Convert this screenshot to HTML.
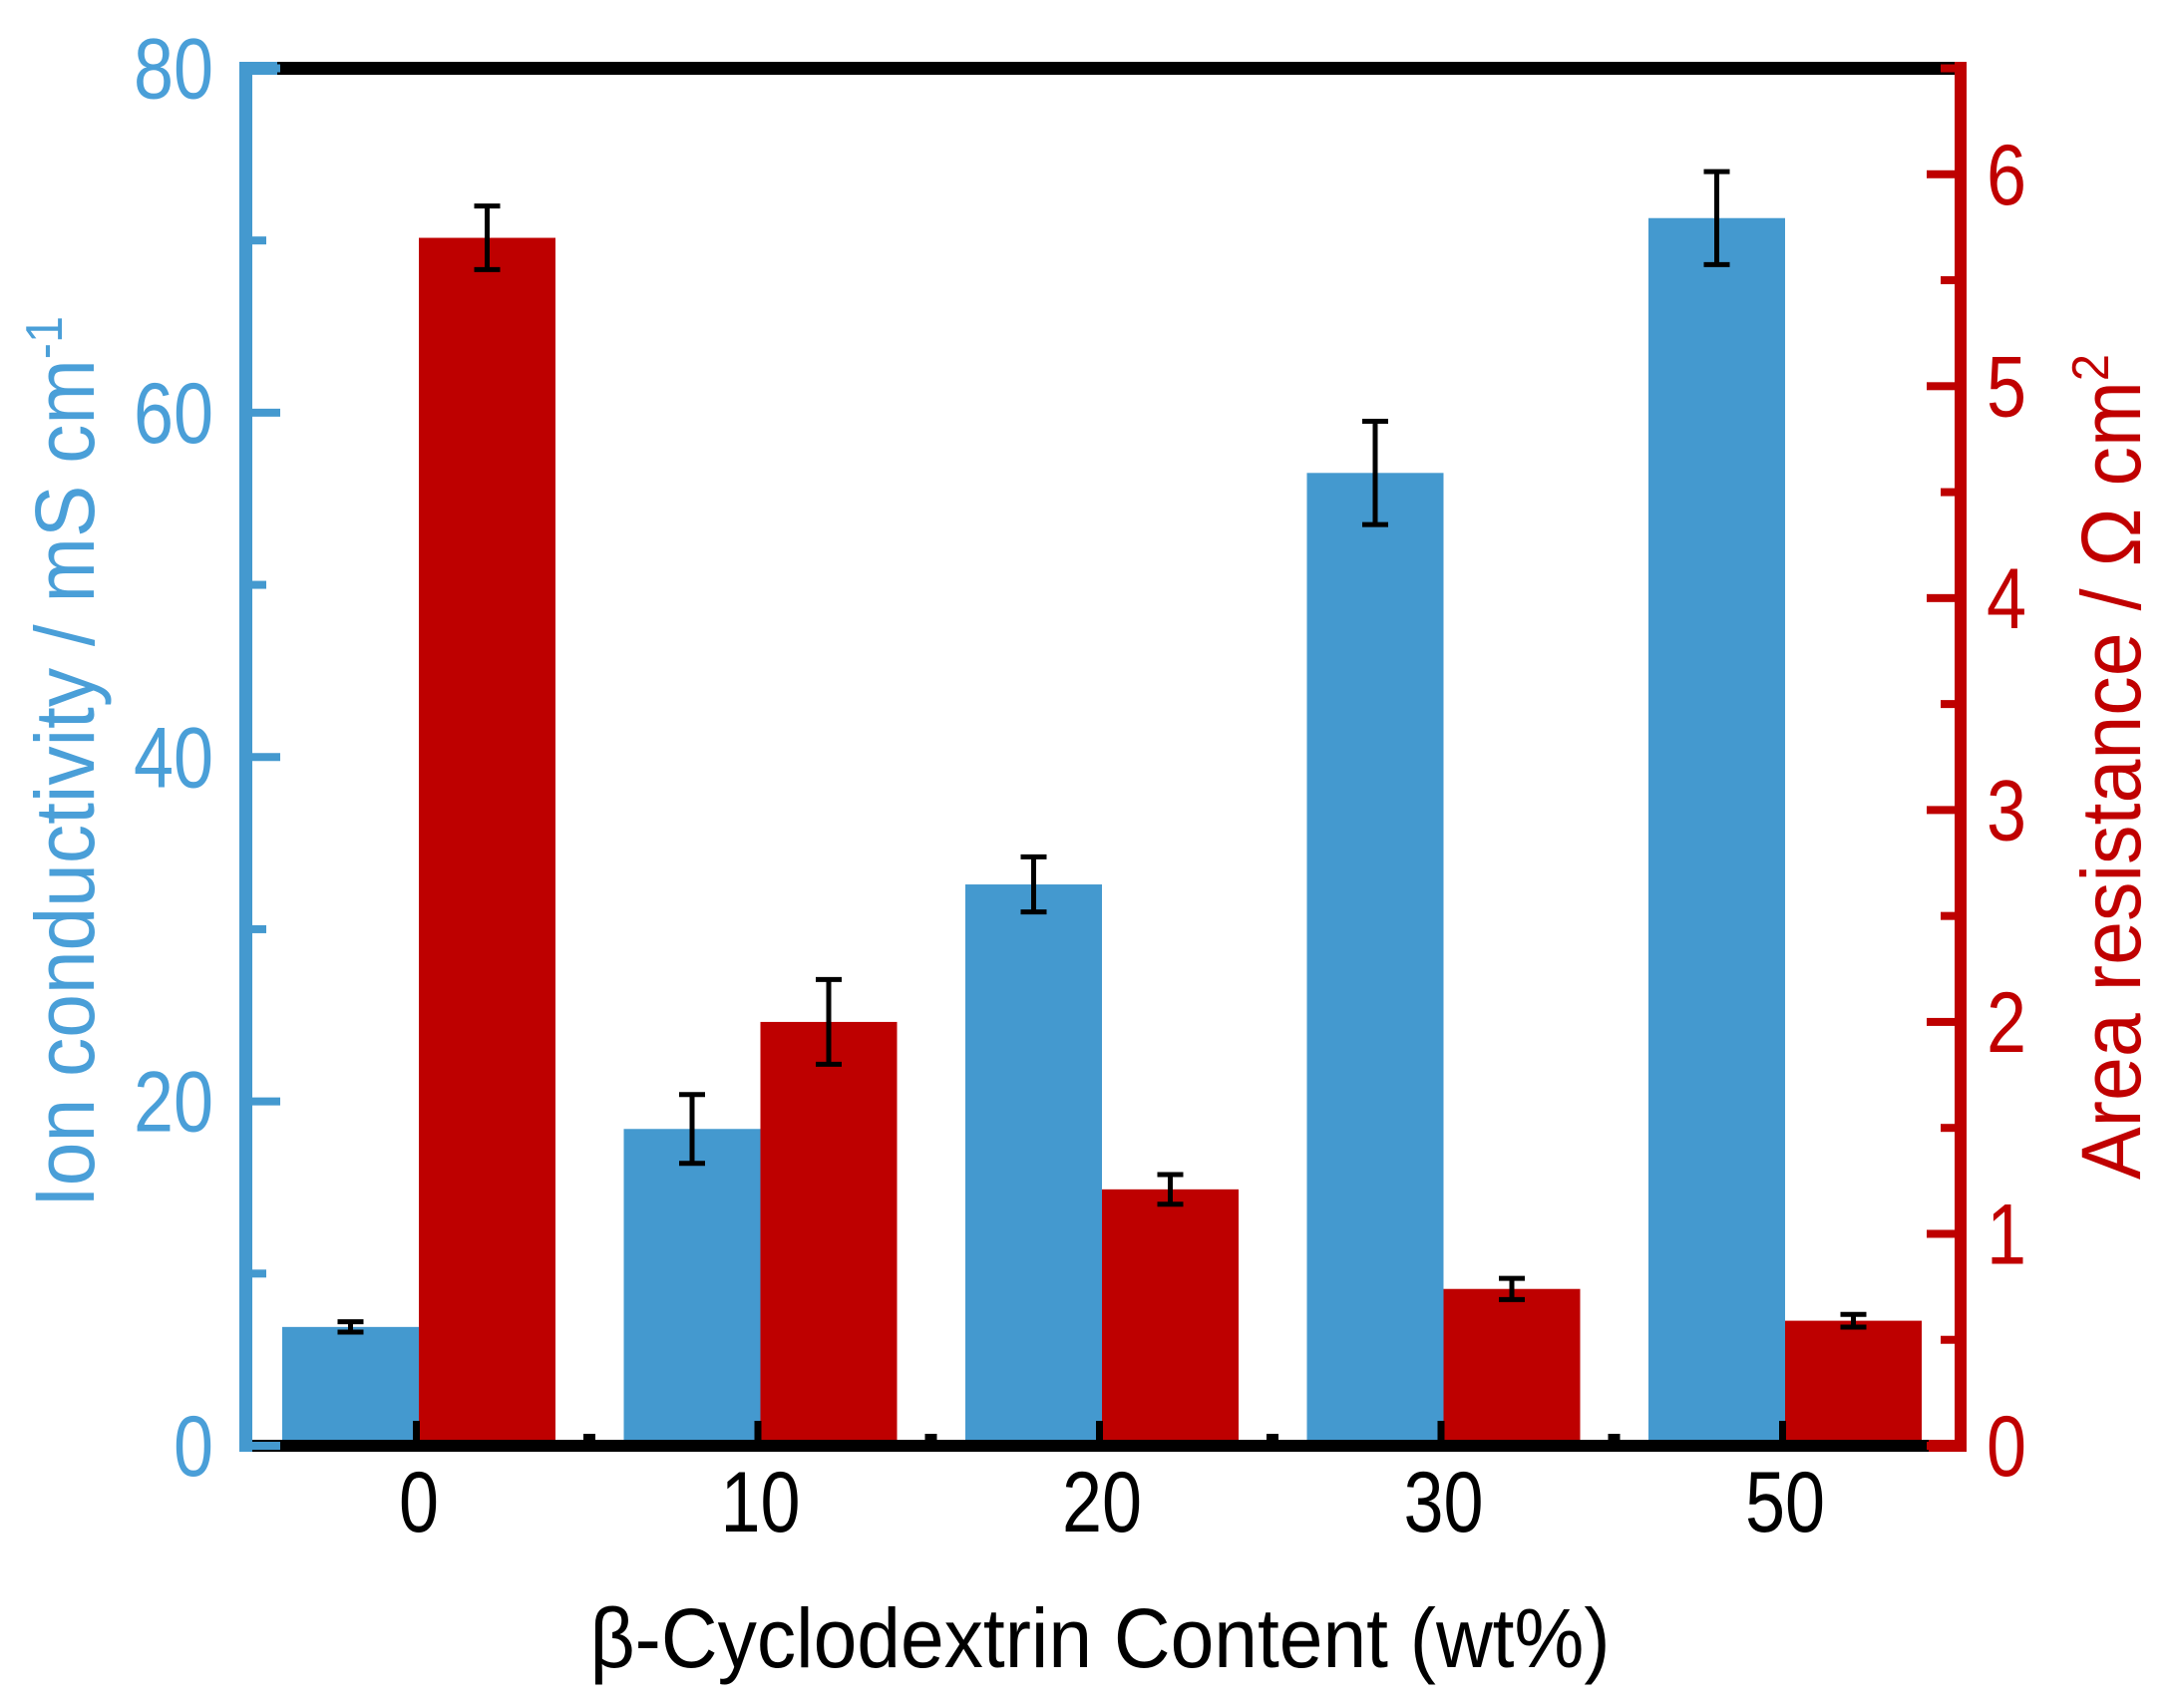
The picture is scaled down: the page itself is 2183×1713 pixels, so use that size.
<!DOCTYPE html>
<html><head><meta charset="utf-8"><style>
html,body{margin:0;padding:0;background:#fff;}
svg{display:block;font-family:"Liberation Sans",sans-serif;}
</style></head><body>
<svg id="chart" xmlns="http://www.w3.org/2000/svg" width="2183" height="1713" viewBox="0 0 2183 1713">
<g id="marks"></g>
<g id="frame"></g>
<text x="1103" y="1672" text-anchor="middle" font-size="84" textLength="1023" lengthAdjust="spacingAndGlyphs" fill="#000">β-Cyclodextrin Content (wt%)</text>
<text transform="translate(94,764) rotate(-90)" text-anchor="middle" font-size="84" textLength="894" lengthAdjust="spacingAndGlyphs" fill="#4a9fd8">Ion conductivity / mS cm<tspan font-size="52" dy="-32">-1</tspan></text>
<text transform="translate(2146,769) rotate(-90)" text-anchor="middle" font-size="84" textLength="828" lengthAdjust="spacingAndGlyphs" fill="#c00000">Area resistance / Ω cm<tspan font-size="52" dy="-32">2</tspan></text>
</svg>
<script>
const categories = ["0","10","20","30","50"];
const conductivity = [6.9, 18.4, 32.6, 56.5, 71.3];
const conductivityErr = [0.3, 2.0, 1.6, 3.0, 2.7];
const resistance = [5.70, 2.00, 1.21, 0.74, 0.59];
const resistanceErr = [0.15, 0.20, 0.07, 0.05, 0.03];
const leftTicks = [0, 20, 40, 60, 80];
const rightTicks = [0, 1, 2, 3, 4, 5, 6];

const NS = "http://www.w3.org/2000/svg";
const X0 = 246, X1 = 1966, YB = 1450, YT = 68.5;
const BLUE = "#4499cf", RED = "#be0000", LBLUE = "#4a9fd8", LRED = "#c00000";
const yL = v => YB - (YB - YT) * v / 80;
const yR = v => YB - (YB - YT) * v / 6.5;
const xC = i => 420 + i * 342.5;
const BW = 137;
const marks = document.getElementById('marks');
const frame = document.getElementById('frame');
function mk(tag, attrs, parent) {
  const e = document.createElementNS(NS, tag);
  for (const k in attrs) e.setAttribute(k, attrs[k]);
  parent.appendChild(e);
  return e;
}
function errBar(x, yTop, yBot, parent) {
  const g = mk('g', {}, parent);
  
  
  mk('line', {x1: x, x2: x, y1: yTop, y2: yBot, stroke: '#000', 'stroke-width': 5}, g);
  mk('line', {x1: x - 13, x2: x + 13, y1: yTop, y2: yTop, stroke: '#000', 'stroke-width': 5}, g);
  mk('line', {x1: x - 13, x2: x + 13, y1: yBot, y2: yBot, stroke: '#000', 'stroke-width': 5}, g);
}
function label(txt, attrs) {
  const t = mk('text', attrs, frame);
  t.textContent = txt;
  t.setAttribute('textLength', 40 * String(txt).length);
  t.setAttribute('lengthAdjust', 'spacingAndGlyphs');
  return t;
}
categories.forEach((c, i) => {
  const cx = xC(i);
  const b = mk('rect', {x: cx - BW, y: yL(conductivity[i]), width: BW, height: YB - yL(conductivity[i]), fill: BLUE}, marks);
  
  
  const r = mk('rect', {x: cx, y: yR(resistance[i]), width: BW, height: YB - yR(resistance[i]), fill: RED}, marks);
  
  
  errBar(cx - BW / 2, yL(conductivity[i] + conductivityErr[i]), yL(conductivity[i] - conductivityErr[i]), marks);
  errBar(cx + BW / 2, yR(resistance[i] + resistanceErr[i]), yR(resistance[i] - resistanceErr[i]), marks);
  const t = label(c, {x: cx, y: 1536, 'text-anchor': 'middle', 'font-size': 86, fill: '#000'});
  
  
  mk('rect', {x: cx - 6, y: 1425, width: 7, height: 20, fill: '#000'}, frame);
  if (i < categories.length - 1) mk('rect', {x: cx + 171 - 6, y: 1438, width: 12, height: 8, fill: '#000'}, frame);
});
mk('rect', {x: 278, y: 62, width: 1688, height: 13, fill: '#000'}, frame);
mk('rect', {x: 253, y: 1444, width: 1681, height: 12, fill: '#000'}, frame);
mk('rect', {x: 1934, y: 1444, width: 38, height: 12, fill: RED}, frame);
mk('rect', {x: 240, y: 62, width: 38, height: 13, fill: BLUE}, frame);
mk('rect', {x: 240, y: 62, width: 13, height: 1394, fill: BLUE}, frame);
mk('rect', {x: 1960, y: 62, width: 12, height: 1394, fill: RED}, frame);
for (let v = 0; v <= 80; v += 10) {
  const major = v % 20 === 0;
  mk('rect', {x: 253, y: yL(v) - 4, width: major ? 28 : 14, height: 8, fill: BLUE}, frame);
}
leftTicks.forEach(v => {
  const t = label(v, {x: 214, y: yL(v) + 30, 'text-anchor': 'end', 'font-size': 86, fill: LBLUE});
  
  
});
for (let v = 0; v <= 6.5; v += 0.5) {
  const major = v % 1 === 0;
  mk('rect', {x: major ? 1932 : 1946, y: yR(v) - 4, width: major ? 28 : 14, height: 8, fill: RED}, frame);
}
rightTicks.forEach(v => {
  const t = label(v, {x: 1992, y: yR(v) + 30, 'text-anchor': 'start', 'font-size': 86, fill: LRED});
  
  
});
</script>
</body></html>
